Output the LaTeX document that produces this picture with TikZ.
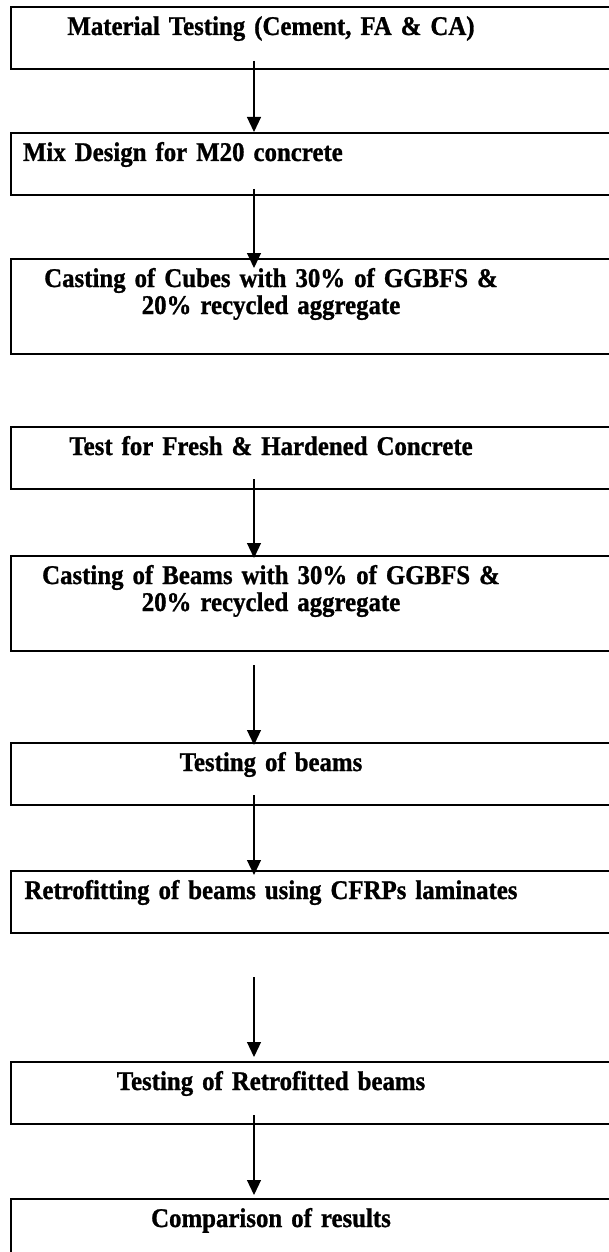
\documentclass[tikz,border=0pt]{standalone}
\usepackage{fontspec}
\setmainfont[FakeStretch=0.92,BoldFeatures={FakeBold=1}]{Liberation Serif}
\usetikzlibrary{positioning,arrows.meta}

\tikzset{
	stepbox/.style={text width=500pt, inner xsep=10pt, inner ysep=0pt, outer sep=0pt,
		align=center, text height=28pt, text depth=34pt,
		font=\fontsize{27pt}{27pt}\selectfont\bfseries},
	twoline/.style={text depth=67pt},
	frame/.style={line width=1.6pt},
	flow/.style={line width=1.2pt, -{Triangle[width=14pt,length=15pt]}}
}

\begin{document}
\begin{tikzpicture}
		\useasboundingbox (0pt,0pt) rectangle (608pt,-1252pt);
		\coordinate (redge) at (615pt,0pt);
		\node[stepbox, anchor=north west] (mat) at (11pt,-7pt) {Material Testing (Cement, FA \& CA)};
		\node[stepbox, below = 64pt of mat, align=left, inner xsep=12pt, text width=496pt] (mix) {Mix Design for M20 concrete};
		\node[stepbox, twoline, below = 64pt of mix] (cubes) {Casting of Cubes with 30\% of GGBFS \&\\ 20\% recycled aggregate};
		\node[stepbox, below = 73pt of cubes] (fresh) {Test for Fresh \& Hardened Concrete};
		\node[stepbox, twoline, below = 67pt of fresh] (beams) {Casting of Beams with 30\% of GGBFS \&\\ 20\% recycled aggregate};
		\node[stepbox, below = 92pt of beams] (tbeams) {Testing of beams};
		\node[stepbox, below = 66pt of tbeams] (retro) {Retrofitting of beams using CFRPs laminates};
		\node[stepbox, below = 129pt of retro] (tretro) {Testing of Retrofitted beams};
		\node[stepbox, below = 75pt of tretro] (comp) {Comparison of results};
		% frames run off the right edge of the page
		\foreach \n in {mat,mix,cubes,fresh,beams,tbeams,retro,tretro,comp}
			\draw[frame] (\n.north west) rectangle (\n.south -| redge);
		\draw[flow] ([shift={(-17pt,8pt)}]mat.south) -- ([shift={(-17pt,1pt)}]mix.north);
		\draw[flow] ([shift={(-17pt,6pt)}]mix.south) -- ([shift={(-17pt,-9pt)}]cubes.north);
		\draw[flow] ([shift={(-17pt,10pt)}]fresh.south) -- ([shift={(-17pt,-2pt)}]beams.north);
		\draw[flow] ([shift={(-17pt,-14pt)}]beams.south) -- ([shift={(-17pt,-2pt)}]tbeams.north);
		\draw[flow] ([shift={(-17pt,10pt)}]tbeams.south) -- ([shift={(-17pt,-4pt)}]retro.north);
		\draw[flow] ([shift={(-17pt,-44pt)}]retro.south) -- ([shift={(-17pt,5pt)}]tretro.north);
		\draw[flow] ([shift={(-17pt,9pt)}]tretro.south) -- ([shift={(-17pt,4pt)}]comp.north);
	\end{tikzpicture}
\end{document}
